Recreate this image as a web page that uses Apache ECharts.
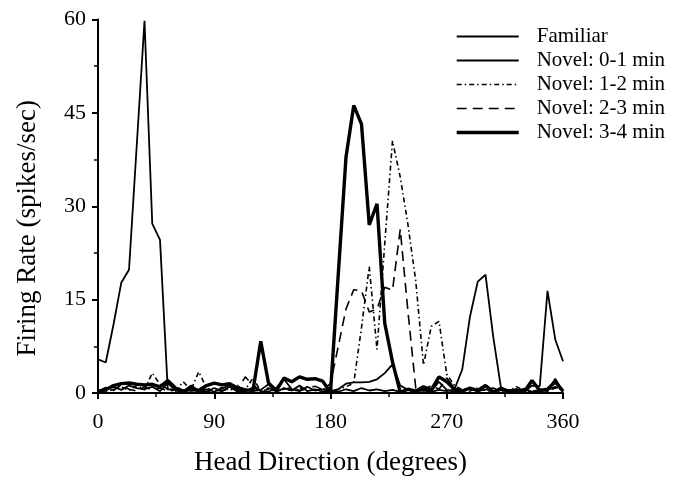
<!DOCTYPE html>
<html>
<head>
<meta charset="utf-8">
<script src="https://cdn.jsdelivr.net/npm/echarts@6/dist/echarts.min.js"></script>
<style>html,body{margin:0;padding:0;background:#fff}#c{width:681px;height:481px}</style>
</head>
<body>
<div id="c"></div>
<script>
const angles = [0,6,12,18,24,30,36,42,48,54,60,66,72,78,84,90,96,102,108,114,120,126,132,138,144,150,156,162,168,174,180,186,192,198,204,210,216,222,228,234,240,246,252,258,264,270,276,282,288,294,300,306,312,318,324,330,336,342,348,354,360];
const seriesNames = ['Familiar','Novel: 0-1 min','Novel: 1-2 min','Novel: 2-3 min','Novel: 3-4 min'];
const familiar = [5.4,4.9,11,17.7,19.8,39.8,59.8,27.2,24.6,0.6,0.5,0.3,1.2,0.4,0.2,0.8,0.3,1.0,0.2,0.6,0.3,0.5,1.4,0.2,0.8,0.4,1.2,0.3,0.6,0.2,0.4,0.2,0.6,0.3,0.8,0.4,0.6,0.3,0.5,0.2,0.6,0.3,0.4,0.2,0.5,0.3,0.6,3.8,12.3,17.9,19,9,0.8,0.3,0.6,0.2,1.2,1.1,16.4,8.6,5.1];
const novel01 = [0.2,0.8,1.0,0.5,1.2,0.8,0.6,1.0,0.3,1.6,0.4,0.2,0.9,0.3,0.6,0.2,0.7,1.3,0.4,0.2,0.9,0.3,0.2,0.8,2.2,0.6,0.3,1.0,0.4,0.6,0.3,0.6,1.5,1.7,1.7,1.8,2.2,3.2,4.6,1.2,0.5,0.2,0.6,0.3,1.8,0.5,0.2,0.4,0.8,0.3,0.6,0.2,0.9,0.4,0.3,0.7,0.2,0.5,0.3,2.3,0.2];
const novel12 = [0.5,0.2,0.6,1.0,0.4,1.2,0.5,3.2,1.4,0.6,0.3,1.8,0.5,3.4,0.8,0.3,0.9,0.4,1.2,0.5,2.4,0.3,0.6,0.2,0.7,0.4,0.9,0.3,0.5,0.8,0.2,0.6,1.0,1.6,10.5,20.3,7,24,40.5,34.7,27,18,4.5,10.7,11.5,3,1.2,0.5,0.3,0.8,0.4,0.2,0.6,0.3,1.0,0.4,0.2,0.6,0.3,0.8,0.5];
const novel23 = [0.3,0.9,0.4,1.3,0.6,0.3,1.0,0.5,0.8,0.3,0.5,0.9,0.3,0.6,0.2,0.5,0.3,0.8,0.5,2.6,1.2,0.4,0.8,0.3,0.6,0.9,0.4,0.7,1.1,0.5,1.5,7.5,13.5,16.6,16.4,13,13.5,17,16.5,26.3,13,0.8,0.4,1.2,0.6,2.4,0.8,0.4,0.9,0.3,0.6,0.8,0.3,0.5,0.2,0.6,0.4,0.2,0.5,1.0,0.3];
const novel34 = [0.2,0.5,1.2,1.5,1.6,1.4,1.3,1.4,1.0,2.0,0.8,0.3,0.6,0.4,1.2,1.6,1.3,1.5,0.8,0.5,0.4,8.3,1.6,0.4,2.4,1.8,2.6,2.2,2.3,1.9,0.1,19,37.9,46.2,43.2,27,30.4,11.2,5,0.1,0.6,0.3,1.0,0.5,2.6,1.8,0.6,0.3,0.8,0.4,1.2,0.2,0.6,0.3,0.5,0.2,2.0,0.4,0.6,1.8,0.3];
const xTicks = [0,90,180,270,360];
const yTicks = [0,15,30,45,60];

const FONT = 'Liberation Serif';
const allData = [familiar, novel01, novel12, novel23, novel34];
const styles = [
  {width:1.8, type:'solid'},
  {width:1.8, type:'solid'},
  {width:1.6, type:[5,3,1.5,3]},
  {width:1.6, type:[10,6]},
  {width:3.4, type:'solid'}
];
const chart = echarts.init(document.getElementById('c'), null, {renderer:'canvas'});
const axisCommon = {
  axisLine:{show:true, lineStyle:{color:'#000', width:2}},
  axisTick:{show:true, inside:false, length:6, lineStyle:{color:'#000', width:2}},
  minorTick:{show:true, splitNumber:2, length:4, lineStyle:{color:'#000', width:1.5}},
  splitLine:{show:false},
  nameTextStyle:{color:'#000', fontFamily:FONT, fontSize:27},
};
chart.setOption({
  animation:false,
  backgroundColor:'#fff',
  grid:{left:98, right:118, top:19.5, bottom:87.5, containLabel:false},
  legend:{
    orient:'vertical', left:455, top:26, padding:0,
    itemWidth:62, itemHeight:10, itemGap:3,
    data:seriesNames.map(function(n, i){
      return {name:n, lineStyle:{color:'#000', width:styles[i].width, type:styles[i].type}};
    }),
    itemStyle:{opacity:0},
    textStyle:{color:'#000', fontFamily:FONT, fontSize:21, lineHeight:20, padding:[0,0,0,13]},
    inactiveColor:'#000'
  },
  xAxis:Object.assign({}, axisCommon, {
    type:'value', min:0, max:360, interval:90,
    name:'Head Direction (degrees)', nameLocation:'middle', nameGap:56,
    axisLabel:{color:'#000', fontFamily:FONT, fontSize:22, margin:18,
      formatter:function(v){ return xTicks.indexOf(v) >= 0 ? String(v) : ''; }}
  }),
  yAxis:Object.assign({}, axisCommon, {
    type:'value', min:0, max:60, interval:15,
    axisLabel:{color:'#000', fontFamily:FONT, fontSize:22, margin:12,
      formatter:function(v){ return yTicks.indexOf(v) >= 0 ? String(v) : ''; }}
  }),
  graphic:[{
    type:'text', left:14, top:100, rotation:Math.PI/2,
    style:{text:'Firing Rate (spikes/sec)', fill:'#000', font:'27px "Liberation Serif"'}
  }],
  series: seriesNames.map(function(n, i){
    return {
      name:n, type:'line', symbol:'none', showSymbol:false,
      data: angles.map(function(a, j){ return [a, allData[i][j]]; }),
      lineStyle:{color:'#000', width:styles[i].width, type:styles[i].type},
      itemStyle:{color:'#000'},
      z: i === 4 ? 5 : 3
    };
  })
});
</script>
</body>
</html>
